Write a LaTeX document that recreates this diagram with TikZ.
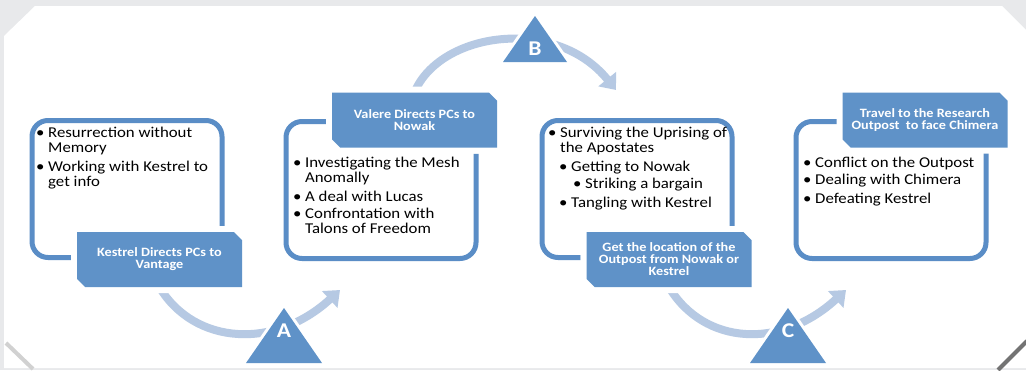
\documentclass[tikz,border=0pt]{standalone}
\usepackage{fontspec}
\setmainfont{Carlito}[FakeStretch=1.12]
\usetikzlibrary{shapes.misc,arrows.meta}

\definecolor{stepblue}{RGB}{95,146,200}
\definecolor{ringblue}{RGB}{90,141,198}
\definecolor{arcblue}{RGB}{182,201,227}
\definecolor{pagegray}{RGB}{232,233,235}

\newcommand{\bitem}[1]{\makebox[12pt][l]{\textbullet}#1}
\newcommand{\bcont}{\hspace*{12pt}}

\tikzset{
  ring/.style={draw=ringblue, line width=5pt, rounded corners=16pt,
    minimum width=190pt, minimum height=137pt},
  tag/.style={chamfered rectangle,
    chamfered rectangle corners={north east,south west},
    chamfered rectangle xsep=5pt,
    fill=stepblue, preaction={draw=white,line width=12pt},
    minimum width=165pt, minimum height=55pt, inner sep=0pt,
    text=white, align=center,
    font=\bfseries\fontsize{12.7}{12}\selectfont},
  body/.style={anchor=north west, inner sep=0pt, align=left,
    font=\fontsize{15}{15}\selectfont},
  letter/.style={text=white, inner sep=0pt,
    font=\bfseries\fontsize{21}{21}\selectfont},
  tri/.style={fill=stepblue, preaction={draw=white,line width=6pt}},
  flow/.style={draw=arcblue, line width=8pt,
    -{Triangle[width=22pt,length=14pt]}}
}

\begin{document}
\begin{tikzpicture}[x=1pt,y=-1pt]
\useasboundingbox (0,0) rectangle (1026,370);

% the page behind
\fill[pagegray] (0,0) rectangle (1026,370);
\fill[white] (4,36) -- (35,6) -- (1002,6) -- (1026,30) -- (1026,368)
  -- (4,368) -- cycle;
\draw[black!18, line width=4pt] (6,343) -- (33,369);
\draw[black!55, line width=4pt] (1027,341) -- (998,370);

% the four rounded frames
\node[ring] (box1) at (127,189) {};
\node[ring] (box2) at (381,190) {};
\node[ring] (box3) at (637,189) {};
\node[ring] (box4) at (891,190) {};

% where the arrows end
\coordinate (endA) at (340,290);
\coordinate (endB) at (616,90);
\coordinate (endC) at (846,290);

% the labels
\node[tag] (lab1) at (159.5,259.5) {Kestrel Directs PCs to\\Vantage};
\node[tag] (lab2) at (414.5,120) {Valere Directs PCs to\\Nowak};
\node[tag] (lab3) at (669,259.5) {Get the location of the\\Outpost from Nowak or\\Kestrel};
\node[tag] (lab4) at (925,120) {Travel to the Research\\Outpost\ \ to face Chimera};

% the arrows
\draw[flow] (lab1.south) .. controls +(35,58) and +(-65,60) .. (endA);
\draw[flow] (lab2.north) .. controls +(25,-60) and +(-61,-75) .. (endB);
\draw[flow] (lab3.south) .. controls +(35,58) and +(-65,60) .. (endC);

% labels again over the arrows
\node[tag] at (lab1) {Kestrel Directs PCs to\\Vantage};
\node[tag] at (lab2) {Valere Directs PCs to\\Nowak};
\node[tag] at (lab3) {Get the location of the\\Outpost from Nowak or\\Kestrel};

% the triangles
\node[letter] (tA) at (284,331) {A};
\node[letter] (tB) at (535,49) {B};
\node[letter] (tC) at (788,331) {C};
\path[tri] ([shift={(0,-23)}]tA.center) -- ([shift={(38,32)}]tA.center)
  -- ([shift={(-38,32)}]tA.center) -- cycle;
\path[tri] ([shift={(0,-33)}]tB.center) -- ([shift={(32,13)}]tB.center)
  -- ([shift={(-32,13)}]tB.center) -- cycle;
\path[tri] ([shift={(0,-23)}]tC.center) -- ([shift={(38,32)}]tC.center)
  -- ([shift={(-38,32)}]tC.center) -- cycle;
\node[letter] at (tA) {A};
\node[letter] at (tB) {B};
\node[letter] at (tC) {C};

% the texts in the frames
\node[body] (txt1) at (36,127) {\bitem{Resurrection without}\\
  \bcont Memory\\[4pt]
  \bitem{Working with Kestrel to}\\
  \bcont get info};
\node[body] (txt2) at (293,157) {\bitem{Investigating the Mesh}\\
  \bcont Anomally\\[4pt]
  \bitem{A deal with Lucas}\\[2pt]
  \bitem{Confrontation with}\\
  \bcont Talons of Freedom};
\node[body] (txt3) at (548,127) {\bitem{Surviving the Uprising of}\\
  \bcont the Apostates\\[4pt]
  \hspace*{11pt}\bitem{Getting to Nowak}\\[2pt]
  \hspace*{25pt}\bitem{Striking a bargain}\\[4pt]
  \hspace*{11pt}\bitem{Tangling with Kestrel}};
\node[body] (txt4) at (803,157) {\bitem{Conflict on the Outpost}\\[2pt]
  \bitem{Dealing with Chimera}\\[4pt]
  \bitem{Defeating Kestrel}};

\end{tikzpicture}
\end{document}
